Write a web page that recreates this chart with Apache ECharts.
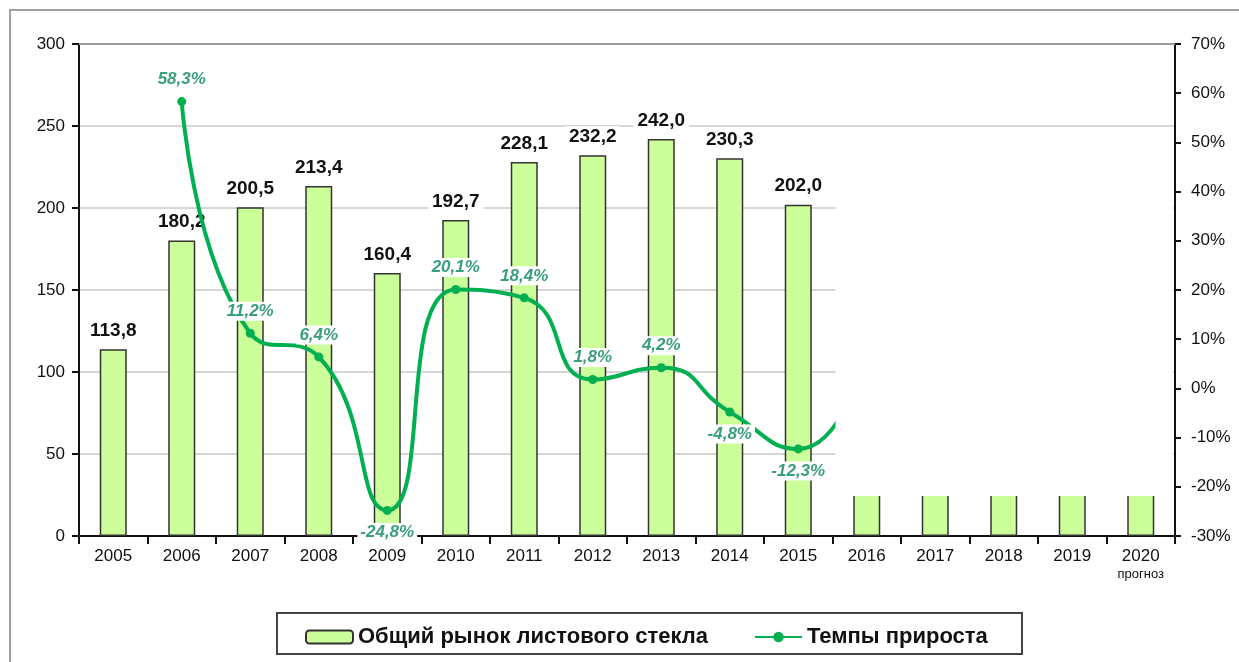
<!DOCTYPE html>
<html>
<head>
<meta charset="utf-8">
<script src="https://cdn.jsdelivr.net/npm/echarts@6/dist/echarts.min.js"></script>
<style>
html,body{margin:0;padding:0;background:#fff;}
#c{width:1239px;height:662px;}
</style>
</head>
<body>
<div id="c"></div>
<script>
// ---- data ----
const years = ['2005','2006','2007','2008','2009','2010','2011','2012','2013','2014','2015','2016','2017','2018','2019','2020'];
const marketValues = [113.8,180.2,200.5,213.4,160.4,192.7,228.1,232.2,242.0,230.3,202.0,205,212,220,228,235];
const growthValues = [null,58.3,11.2,6.4,-24.8,20.1,18.4,1.8,4.2,-4.8,-12.3,8,null,null,null,null];
const forecastStart = 11; // first forecast year index (values hidden in the picture)
const leftTicks = {min:0,max:300,interval:50};
const rightTicks = {min:-30,max:70,interval:10};
const forecastNote = 'прогноз';
const seriesNames = ['Общий рынок листового стекла','Темпы прироста'];
// per-point label placement for growth line
const growthLabelPos = [null,'top','top','top','bottom','top','top','top','top','bottom','bottom','top',null,null,null,null];

const fmt1 = v => v.toFixed(1).replace('.', ',');
const F = 'Liberation Sans, Arial, sans-serif';

const chart = echarts.init(document.getElementById('c'), null, {renderer:'canvas'});

const option = {
  animation:false,
  backgroundColor:'#fff',
  grid:{left:79,right:64,top:44,bottom:126,containLabel:false},
  legend:{
    top:621, left:300,
    itemWidth:47, itemHeight:13, itemGap:46,
    textStyle:{fontFamily:F,fontWeight:'bold',fontSize:22,color:'#111'},
    data:seriesNames
  },
  xAxis:[{
    type:'category', data:years, boundaryGap:true,
    axisLine:{onZero:false,lineStyle:{color:'#111',width:2}},
    axisTick:{show:true,length:8,interval:0,lineStyle:{color:'#111',width:2}},
    axisLabel:{interval:0,margin:12,fontFamily:F,fontSize:17,color:'#111',
      formatter:(v)=> v===years[years.length-1] ? v+'\n{s|'+forecastNote+'}' : v,
      rich:{s:{fontFamily:F,fontSize:13,color:'#111',lineHeight:18}}},
    splitLine:{show:false}
  },{
    type:'category', data:years, position:'top',
    axisLine:{show:true,onZero:false,lineStyle:{color:'#9a9a9a',width:2}},
    axisTick:{show:false}, axisLabel:{show:false}, splitLine:{show:false}
  }],
  yAxis:[{
    type:'value', min:leftTicks.min, max:leftTicks.max, interval:leftTicks.interval,
    axisLine:{show:true,lineStyle:{color:'#111',width:2}},
    axisTick:{show:true,length:7,lineStyle:{color:'#111',width:2}},
    axisLabel:{fontFamily:F,fontSize:17,color:'#111',margin:14},
    splitLine:{show:true,lineStyle:{color:'#d6d6d6',width:2}}
  },{
    type:'value', min:rightTicks.min, max:rightTicks.max, interval:rightTicks.interval, position:'right',
    axisLine:{show:true,lineStyle:{color:'#111',width:2}},
    axisTick:{show:true,length:6,lineStyle:{color:'#111',width:2}},
    axisLabel:{fontFamily:F,fontSize:17,color:'#111',margin:16,formatter:v=>v+'%'},
    splitLine:{show:false}
  }],
  series:[{
    name:seriesNames[0], type:'bar', z:2, barWidth:27,
    data:marketValues.map((v,i)=>({value:v,label:{show:i<forecastStart}})),
    itemStyle:{color:'#ccff99',borderColor:'#333',borderWidth:1.5},
    label:{show:true,position:'top',distance:8,fontFamily:F,fontWeight:'bold',fontSize:19,color:'#111',
      backgroundColor:'#fff',padding:[1,4],formatter:p=>fmt1(p.value)}
  },{
    name:seriesNames[1], type:'line', yAxisIndex:1, z:3,
    data:growthValues.map((v,i)=>v===null?null:{
        value:v,
        label:{show:i<forecastStart,position:growthLabelPos[i]}
      }),
    smooth:0.55, connectNulls:false,
    symbol:'circle', symbolSize:9,
    lineStyle:{color:'#00b050',width:4},
    itemStyle:{color:'#00b050'},
    label:{show:true,fontFamily:F,fontStyle:'italic',fontWeight:'bold',fontSize:17,color:'#3a9e7c',distance:8,
      backgroundColor:'#fff',padding:[1,3],
      formatter:p=>fmt1(p.value)+'%'}
  }],
  graphic:[]
};
chart.setOption(option);

// decoration: frame, legend box, and white cover over forecast area
const cx0 = chart.convertToPixel({xAxisIndex:0}, years[forecastStart-1]);
const cx1 = chart.convertToPixel({xAxisIndex:0}, years[forecastStart]);
const catW = cx1 - cx0;
const gridRight = 1239 - 64;
const coverLeft = cx0 + catW/2 + 3;
const coverTop = chart.convertToPixel({yAxisIndex:0}, 247.5);
const coverBottom = chart.convertToPixel({yAxisIndex:0}, 24.4);
chart.setOption({graphic:[
  {type:'rect',z:100,silent:true,shape:{x:coverLeft,y:coverTop,width:gridRight-2-coverLeft,height:coverBottom-coverTop},style:{fill:'#fff'}},
  {type:'rect',z:100,silent:true,shape:{x:10,y:10,width:1260,height:700},style:{fill:null,stroke:'#a0a0a0',lineWidth:2}},
  {type:'rect',z:100,silent:true,shape:{x:277,y:613,width:745,height:41},style:{fill:null,stroke:'#444',lineWidth:2}}
]});
</script>
</body>
</html>
